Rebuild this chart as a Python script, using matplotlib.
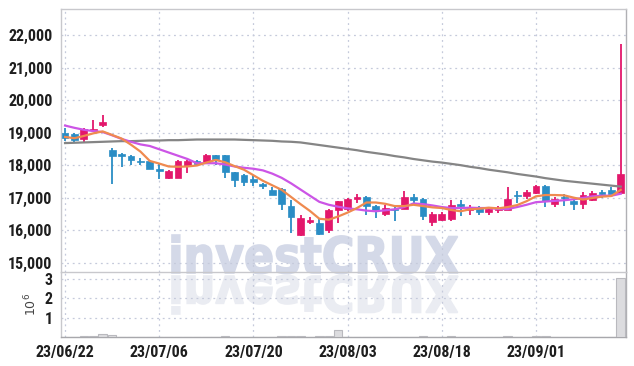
import matplotlib
matplotlib.use('Agg')
import matplotlib.pyplot as plt
from matplotlib import font_manager
from matplotlib.textpath import TextPath
from matplotlib.patches import PathPatch
from matplotlib.font_manager import FontProperties
from matplotlib.transforms import Affine2D

# daily OHLC (KRW), trading days from 23/06/22
opens = [19000, 18950, 18800, 19080, 19250, 18480, 18350, 18290, 18140, 18140,
         17890, 17620, 17610, 17960, 18120, 18110, 18300, 18300, 17780, 17710,
         17560, 17430, 17250, 17280, 16750, 15860, 16240, 16220, 16010, 16620,
         16640, 16950, 17030, 16750, 16500, 16660, 16660, 17030, 16960, 16250,
         16300, 16340, 16810, 16610, 16720, 16550, 16610, 16620, 17070, 17040,
         17140, 17370, 16810, 17030, 16910, 16800, 16920, 17160, 17230, 17140]
highs = [19150, 18980, 19150, 19380, 19560, 18540, 18360, 18300, 18220, 18160,
         18070, 17850, 18150, 18170, 18150, 18350, 18310, 18320, 17790, 17720,
         17700, 17450, 17330, 17300, 16930, 16460, 16400, 16380, 16650, 16900,
         17000, 17110, 17050, 16760, 16770, 16760, 17200, 17120, 16980, 16560,
         16560, 16930, 16930, 16770, 16740, 16670, 16740, 17330, 17200, 17250,
         17400, 17380, 17010, 17110, 16930, 17160, 17190, 17250, 17330, 21720]
lows = [18750, 18690, 18700, 19060, 19180, 17430, 17950, 18010, 18010, 17880,
        17570, 17580, 17600, 17760, 18010, 18080, 18020, 17610, 17330, 17350,
        17360, 17280, 17080, 16610, 15900, 15830, 16200, 15860, 15900, 16220,
        16600, 16850, 16480, 16380, 16420, 16290, 16640, 16810, 16320, 16130,
        16270, 16290, 16440, 16450, 16480, 16450, 16540, 16610, 16830, 16960,
        17120, 16710, 16700, 16740, 16620, 16660, 16890, 16990, 17100, 17120]
closes = [18830, 18790, 19110, 19120, 19340, 18270, 18270, 18150, 18090, 17890,
          17830, 17830, 18120, 18120, 18040, 18300, 18200, 17780, 17530, 17470,
          17480, 17350, 17090, 16810, 16390, 16360, 16320, 15890, 16620, 16890,
          16970, 17030, 16730, 16630, 16690, 16620, 17030, 16940, 16420, 16490,
          16500, 16760, 16750, 16720, 16560, 16650, 16660, 16950, 17040, 17170,
          17370, 16890, 16950, 16980, 16800, 17090, 17140, 17120, 17120, 17740]
# volume in millions of shares
volume = [0.02, 0.01, 0.03, 0.03, 0.14, 0.09, 0.01, 0.01, 0.005, 0.01,
          0.01, 0.01, 0.02, 0.01, 0.01, 0.01, 0.02, 0.03, 0.01, 0.01,
          0.01, 0.01, 0.02, 0.03, 0.04, 0.03, 0.01, 0.03, 0.03, 0.36,
          0.02, 0.01, 0.02, 0.02, 0.01, 0.01, 0.02, 0.02, 0.03, 0.02,
          0.01, 0.03, 0.01, 0.01, 0.01, 0.01, 0.01, 0.04, 0.01, 0.01,
          0.03, 0.03, 0.01, 0.01, 0.01, 0.01, 0.01, 0.01, 0.01, 3.05]

# moving averages
ma_short = [18870, 18830, 18900, 18980, 19040, 18930, 18820, 18630, 18420, 18130,
            18050, 17960, 17950, 17960, 17990, 18080, 18160, 18090, 17970, 17860,
            17690, 17520, 17380, 17240, 17020, 16800, 16590, 16350, 16320, 16420,
            16540, 16680, 16850, 16850, 16810, 16740, 16740, 16780, 16740, 16700,
            16680, 16620, 16580, 16640, 16660, 16690, 16670, 16710, 16770, 16890,
            17040, 17080, 17080, 17070, 17000, 16940, 16990, 17030, 17050, 17240]
ma_mid = [19220, 19150, 19090, 19050, 19020, 18920, 18810, 18720, 18640, 18590,
          18490, 18390, 18290, 18190, 18060, 18060, 18060, 18020, 17960, 17920,
          17890, 17840, 17740, 17610, 17440, 17250, 17060, 16870, 16780, 16720,
          16670, 16640, 16600, 16580, 16610, 16640, 16710, 16820, 16800, 16760,
          16710, 16680, 16680, 16690, 16680, 16680, 16650, 16650, 16710, 16780,
          16860, 16880, 16900, 16920, 16950, 16990, 17040, 17060, 17060, 17120]
ma_long = [18680, 18690, 18700, 18710, 18720, 18730, 18740, 18740, 18750, 18760,
           18760, 18770, 18770, 18780, 18790, 18790, 18790, 18790, 18790, 18780,
           18770, 18760, 18750, 18730, 18720, 18700, 18660, 18620, 18580, 18540,
           18500, 18460, 18410, 18370, 18330, 18280, 18240, 18190, 18150, 18110,
           18080, 18040, 18000, 17950, 17910, 17860, 17820, 17780, 17730, 17690,
           17650, 17600, 17560, 17520, 17490, 17460, 17430, 17400, 17370, 17340]

date_ticks = [0, 10, 20, 30, 40, 50]
date_labels = ['23/06/22', '23/07/06', '23/07/20', '23/08/03', '23/08/18', '23/09/01']
price_ticks = [15000, 16000, 17000, 18000, 19000, 20000, 21000, 22000]
vol_ticks = [1, 2, 3]

# pick a narrow bold face for the tick labels
names = {f.name for f in font_manager.fontManager.ttflist}
tick_prop = FontProperties(family='DejaVu Sans', weight='bold', stretch='condensed', size=11)
for fam in ['Roboto Condensed', 'Liberation Sans Narrow', 'Open Sans Condensed']:
    if fam in names:
        tick_prop = FontProperties(family=fam, weight='bold', size=11.5)
        break

up_color = '#e3176b'
down_color = '#2a8dc5'
grid_kw = dict(color='#c5cadb', linestyle=(0, (1.5, 3)), linewidth=0.9)

fig = plt.figure(figsize=(6.34, 3.66), dpi=100)
fig.patch.set_facecolor('white')
ax = fig.add_axes([0.0962, 0.256, 0.8912, 0.7194])
ax2 = fig.add_axes([0.0962, 0.0792, 0.8912, 0.1768], sharex=ax)
for a in (ax, ax2):
    a.set_facecolor('none')

# watermark with reflection
wm_prop = FontProperties(family='DejaVu Sans', weight='bold')
wm_path = TextPath((0, 0), 'investCRUX', size=1, prop=wm_prop)
ext = wm_path.get_extents()
sx = 286 / ext.width
sy = 50
base_y = 366 - 273
fig.patches.append(PathPatch(wm_path, transform=Affine2D().translate(-ext.x0, 0).scale(sx, sy).translate(172, base_y),
                             facecolor='#d4d9e8', edgecolor='#d4d9e8', linewidth=1.2, zorder=-5))
fig.patches.append(PathPatch(wm_path, transform=Affine2D().translate(-ext.x0, 0).scale(sx, -sy).translate(172, base_y - 3),
                             facecolor='#eaecf2', edgecolor='#eaecf2', linewidth=1.2, zorder=-5))

x = list(range(len(closes)))
colors = [up_color if c >= o else down_color for o, c in zip(opens, closes)]
bottoms = [min(o, c) for o, c in zip(opens, closes)]
heights = [max(abs(c - o), 25) for o, c in zip(opens, closes)]

ax.vlines(x, lows, highs, colors=colors, linewidth=1.3, zorder=3)
ax.bar(x, heights, bottom=bottoms, width=0.72, color=colors, edgecolor=colors, linewidth=0.5, zorder=4)

ax.plot(x, ma_long, color='#858585', linewidth=1.6, zorder=5)
ax.plot(x, ma_mid, color='#cc55e6', linewidth=1.6, zorder=5)
ax.plot(x, ma_short, color='#ef8a4f', linewidth=1.6, zorder=5)

ax.set_xlim(-0.43, 59.56)
ax.set_ylim(14700, 22810)
ax.set_yticks(price_ticks)
ax.set_yticklabels([f'{p:,}' for p in price_ticks])
ax.grid(True, **grid_kw)
ax.set_axisbelow(True)

ax2.bar(x, volume, width=0.9, color='#dcdcdf', edgecolor='#b9b9be', linewidth=0.8, zorder=3)
ax2.set_ylim(0, 3.36)
ax2.set_yticks(vol_ticks)
ax2.set_yticklabels([str(v) for v in vol_ticks])
ax2.set_ylabel('10$^6$', color='#444444', fontsize=9, labelpad=4)
ax2.grid(True, **grid_kw)
ax2.set_axisbelow(True)
ax2.set_xticks(date_ticks)
ax2.set_xticklabels(date_labels)

for a in (ax, ax2):
    a.tick_params(length=0, pad=6, labelcolor='#1e1e1e')
    for lab in a.get_xticklabels() + a.get_yticklabels():
        lab.set_fontproperties(tick_prop)
    for s in a.spines.values():
        s.set_color('#c8c8cc')
        s.set_linewidth(1)
ax.tick_params(labelbottom=False)
ax.spines['bottom'].set_visible(False)
ax.spines['right'].set_color('#b0b0b4')
ax2.spines['right'].set_color('#b0b0b4')
ax2.spines['bottom'].set_color('#a8a8ac')

fig.savefig('out.png', dpi=100)
